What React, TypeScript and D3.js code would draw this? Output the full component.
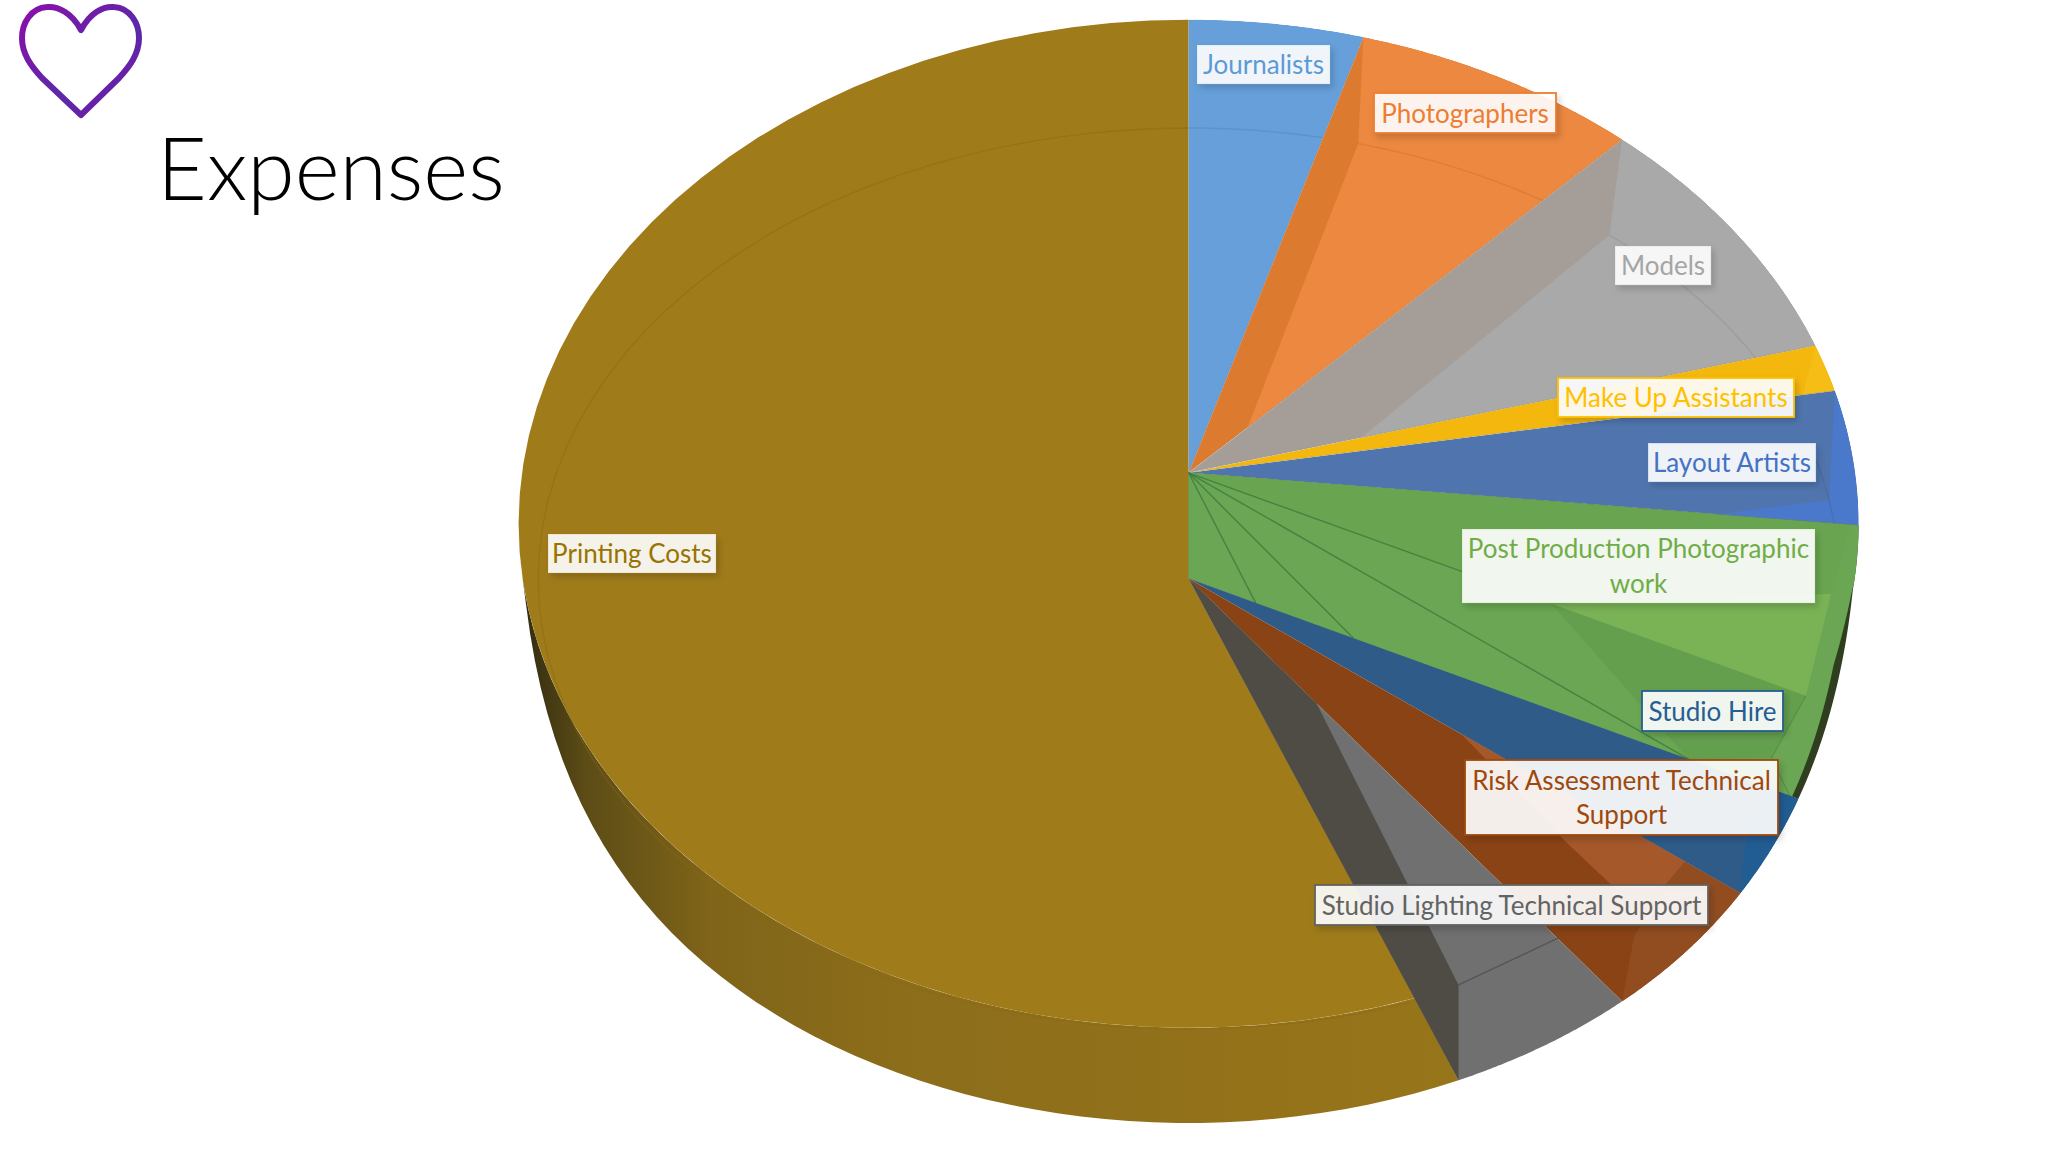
import React from "react";
import * as d3 from "d3";

// percent shares, clockwise from 12 o'clock
const categories = [
  "Journalists",
  "Photographers",
  "Models",
  "Make Up Assistants",
  "Layout Artists",
  "Post Production Photographic work",
  "Studio Hire",
  "Risk Assessment Technical Support",
  "Studio Lighting Technical Support",
  "Printing Costs",
];
const shares = [4.2, 7.0, 8.05, 1.5, 4.3, 6.75, 2.8, 4.2, 4.6, 56.6];
const labelLines = [
  ["Journalists"],
  ["Photographers"],
  ["Models"],
  ["Make Up Assistants"],
  ["Layout Artists"],
  ["Post Production Photographic", "work"],
  ["Studio Hire"],
  ["Risk Assessment Technical", "Support"],
  ["Studio Lighting Technical Support"],
  ["Printing Costs"],
];

// text colour of each label, also its border
const labelColors = ["#5b9bd5", "#ed7d31", "#a5a5a5", "#ffc000", "#4472c4", "#70ad47", "#255e91", "#9e480e", "#636363", "#997300"];
const borderOpacity = [0.1, 1, 0.15, 1, 0.15, 0.1, 1, 1, 1, 0.1];
const wallColors = ["#5e9fdc", "#dc7b2f", "#a59e98", "#f3b70e", "#5075ae"];
const floorColors = ["#669fd9", "#ec8840", "#a9a9a9", "#f5bd16", "#4a78cb"];

// label boxes: x0, x1, y0, y1
const labelBoxes = [
  [1197, 1330, 45, 84],
  [1374, 1556, 93, 133],
  [1615, 1711, 246, 285],
  [1558, 1794, 378, 417],
  [1648, 1816, 443, 482],
  [1462, 1815, 529, 603],
  [1642, 1783, 691, 731],
  [1465, 1778, 760, 835],
  [1315, 1708, 885, 925],
  [548, 716, 534, 573],
];

const W = 2048;
const H = 1152;
const cx = 1188.6;
const lipCy = 523.7;
const rx = 670;
const ry = 504;
const depth = 95.3;
const apexY = 472.8;
const floorCy = 578.6;
const innerRx = 650.4;
const innerRy = 450.6;

type Pt = [number, number];

const A: Pt = [cx, apexY];
const F: Pt = [cx, floorCy];

const arcs = d3.pie<number>().sort(null)(shares);

const lerp = (p: Pt, q: Pt, t: number): Pt => [p[0] + (q[0] - p[0]) * t, p[1] + (q[1] - p[1]) * t];

const lip = (a: number): Pt => [cx + rx * Math.sin(a), lipCy - ry * Math.cos(a)];

// outer silhouette, the side wall tapers away toward 3 and 9 o'clock
const rim = (a: number, k = 1): Pt => {
  const c = Math.max(0, (-Math.cos(a) - 0.13) / 0.87);
  return [cx + rx * k * Math.sin(a), lipCy - ry * Math.cos(a) + depth * (1 - Math.pow(1 - c, 3))];
};
const inner = (a: number): Pt => [cx + innerRx * Math.sin(a), floorCy - innerRy * Math.cos(a)];

const sweep = (a0: number, a1: number, f: (a: number) => Pt): Pt[] =>
  d3.range(0, 61).map((i) => f(a0 + ((a1 - a0) * i) / 60));

const line = d3.line<Pt>();
const closed = (pts: Pt[]) => line(pts) + "Z";

const rad = (deg: number) => (deg * Math.PI) / 180;

// (u, t) inside a wedge: u across the slice, t from the apex out to the rim
const local = (apex: Pt, i: number, k = 1) => (u: number, t: number): Pt => {
  const { startAngle, endAngle } = arcs[i];
  return lerp(apex, rim(startAngle + (endAngle - startAngle) * u, k), t);
};

function UpperSlice({ i }: { i: number }) {
  const { startAngle: a0, endAngle: a1 } = arcs[i];
  const wedge = [A, ...sweep(a0, a1, rim)];
  // the layout artists floor starts further round than the others
  const skew = i === 4 ? rad(5.3) : 0;
  const floor = [F, inner(a0 + skew), rim(a0), ...sweep(a0, a1, rim)];
  const id = `slice-${i}`;
  return (
    <g>
      <clipPath id={id}>
        <path d={closed(wedge)} />
      </clipPath>
      <g clipPath={`url(#${id})`}>
        <path d={closed(wedge)} fill={wallColors[i]} />
        <path d={closed(floor)} fill={floorColors[i]} />
        <path d={line(sweep(a0, a1, inner))!} fill="none" stroke="#000" strokeOpacity={0.07} strokeWidth={1.5} />
      </g>
      <path d={line([A, rim(a1)])!} fill="none" stroke="#8a8a7a" strokeOpacity={0.35} strokeWidth={1} />
    </g>
  );
}

function PostProduction() {
  const i = 5;
  const { startAngle: a0, endAngle: a1 } = arcs[i];
  const w = local(A, i, 0.988);
  const end = rim(a1);
  // the dark side wall only shows from a little below 3 o'clock
  const edgeK = (a: number) => 1 - 0.012 * Math.min(1, Math.max(0, (a - rad(97)) / rad(6)));
  const wedge = [A, ...sweep(a0, a1, (a) => rim(a, edgeK(a))), F];
  const fanStops = [0.11, 0.27, 0.82];
  return (
    <g>
      <path d={closed([A, ...sweep(a0, a1, rim), F])} fill="#2e3e1f" />
      <path d={closed(wedge)} fill="#6aa653" />
      <path d={closed([w(0.65, 0.97), w(0.9, 0.95), lerp(F, end, 0.82), w(0.65, 0.57)])} fill="#649f4e" />
      <path d={closed([w(0.65, 0.57), w(0.65, 0.97), w(0.32, 0.98)])} fill="#7ab256" />
      <path d={closed([A, w(0, 1), w(0.32, 0.98), w(0.65, 0.57)])} fill="#69a550" />
      {fanStops.map((s) => (
        <path key={s} d={line([A, lerp(F, end, s)])!} fill="none" stroke="#3c7a3c" strokeOpacity={0.8} strokeWidth={1.4} />
      ))}
      <path d={line([A, w(0.65, 0.43)])!} fill="none" stroke="#3c7a3c" strokeOpacity={0.8} strokeWidth={1.4} />
      <path d={line([w(0.65, 0.97), w(0.9, 0.95), w(1, 1)])!} fill="none" stroke="#4f8a45" strokeOpacity={0.7} strokeWidth={1.2} />
    </g>
  );
}

function LowerSlices() {
  const studio = local(F, 6);
  const risk = local(F, 7);
  const lighting = local(F, 8);
  const wedge = (i: number) => closed([F, ...sweep(arcs[i].startAngle, arcs[i].endAngle, rim)]);
  const outer = (w: typeof risk, stops: Pt[]) => stops.map(([u, t]) => w(u, t));
  return (
    <g>
      <path d={wedge(6)} fill="#2e5b88" />
      <path
        d={closed([...outer(studio, [[0, 0.95], [0.4, 0.95]]), ...sweep(arcs[6].endAngle, arcs[6].startAngle, rim)])}
        fill="#215c92"
      />
      <path d={wedge(7)} fill="#8a4314" />
      <path d={closed(outer(risk, [[0, 0.494], [0.364, 0.738], [0.438, 0.848], [0.233, 0.9], [0, 0.9]]))} fill="#a5582a" />
      <path
        d={closed([
          ...outer(risk, [[0, 0.9], [0.233, 0.9], [0.627, 0.925]]),
          ...sweep(arcs[7].endAngle, arcs[7].startAngle, rim),
        ])}
        fill="#914d20"
      />
      <path d={wedge(8)} fill="#707071" />
      <path
        d={closed([F, rim(arcs[8].endAngle), lip(arcs[8].endAngle), lighting(0, 0.295)])}
        fill="#4f4c46"
      />
      <path
        d={line([lip(arcs[8].endAngle), lerp(lip(arcs[8].endAngle), lip(arcs[8].startAngle), 0.62)])!}
        fill="none"
        stroke="#555"
        strokeWidth={1.4}
      />
    </g>
  );
}

function Printing() {
  const { startAngle: a0 } = arcs[9];
  const corner = a0 + rad(4);
  const wallEnd = rad(280);
  const top = [F, ...sweep(corner, Math.PI * 2, lip)];
  const wall = [...sweep(a0, wallEnd, rim), ...sweep(wallEnd, corner, lip)];
  return (
    <g>
      <path d={closed(wall)} fill="url(#goldWall)" />
      <path d={closed(top)} fill="#9f7b1a" />
      <path d={line(sweep(corner, Math.PI * 2, inner))!} fill="none" stroke="#8a6812" strokeOpacity={0.42} strokeWidth={1.4} />
    </g>
  );
}

function Heart() {
  const p = d3.path();
  p.moveTo(81, 30);
  p.bezierCurveTo(72, 13, 58, 6, 47, 7);
  p.bezierCurveTo(31, 8, 22, 23, 22, 38);
  p.bezierCurveTo(22, 54, 31, 66, 42, 78);
  p.lineTo(81, 115);
  p.lineTo(119, 78);
  p.bezierCurveTo(130, 66, 139, 54, 139, 38);
  p.bezierCurveTo(139, 23, 130, 8, 114, 7);
  p.bezierCurveTo(103, 6, 90, 13, 81, 30);
  p.closePath();
  return <path d={p.toString()} fill="#fff" stroke="url(#heartStroke)" strokeWidth={6} strokeLinejoin="round" />;
}

function Label({ i }: { i: number }) {
  const [x0, x1, y0, y1] = labelBoxes[i];
  const lines = labelLines[i];
  const mid = (y0 + y1) / 2;
  return (
    <g>
      <rect
        x={x0}
        y={y0}
        width={x1 - x0}
        height={y1 - y0}
        fill="#fff"
        fillOpacity={0.9}
        stroke={labelColors[i]}
        strokeOpacity={borderOpacity[i]}
        strokeWidth={1.8}
        filter="url(#labelShadow)"
      />
      {lines.map((t, j) => (
        <text
          key={t}
          x={(x0 + x1) / 2}
          y={mid + (j - (lines.length - 1) / 2) * 34.6 + 9.5}
          textAnchor="middle"
          fontFamily="Lato, 'Open Sans', sans-serif"
          fontSize={26}
          fill={labelColors[i]}
        >
          {t}
        </text>
      ))}
    </g>
  );
}

export default function App() {
  return (
    <svg
      width={W}
      height={H}
      viewBox={`0 0 ${W} ${H}`}
      style={{ position: "absolute", left: 0, top: 0, background: "#fff" }}
    >
      <defs>
        <linearGradient id="goldWall" gradientUnits="userSpaceOnUse" x1={cx - rx} x2={cx + 280} y1={0} y2={0}>
          <stop offset="0" stopColor="#2f2a10" />
          <stop offset="0.07" stopColor="#5c4c16" />
          <stop offset="0.2" stopColor="#7f6419" />
          <stop offset="0.4" stopColor="#8c6d1a" />
          <stop offset="1" stopColor="#97751a" />
        </linearGradient>
        <linearGradient id="heartStroke" x1="0" x2="1" y1="0" y2="1">
          <stop offset="0" stopColor="#8a0fab" />
          <stop offset="0.6" stopColor="#5a2aa8" />
          <stop offset="1" stopColor="#8010a8" />
        </linearGradient>
        <filter id="labelShadow" x="-20%" y="-30%" width="140%" height="170%">
          <feDropShadow dx="3" dy="4" stdDeviation="3" floodColor="#000" floodOpacity="0.18" />
        </filter>
      </defs>
      <Printing />
      {[0, 1, 2, 3, 4].map((i) => (
        <UpperSlice key={categories[i]} i={i} />
      ))}
      <PostProduction />
      <LowerSlices />
      {categories.map((c, i) => (
        <Label key={c} i={i} />
      ))}
      <Heart />
      <text x={157} y={200} fontFamily="Lato, 'Open Sans', sans-serif" fontWeight={300} fontSize={86} fill="#000">
        Expenses
      </text>
    </svg>
  );
}
